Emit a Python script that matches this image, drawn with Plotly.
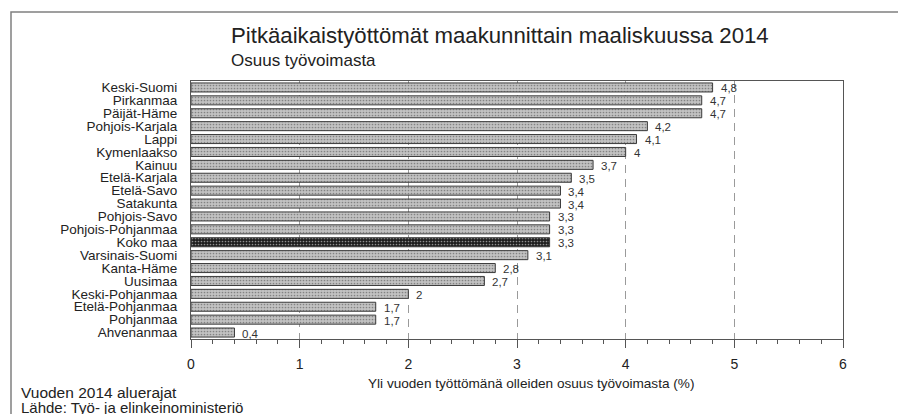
import plotly.graph_objects as go

regions = ["Keski-Suomi", "Pirkanmaa", "Päijät-Häme", "Pohjois-Karjala", "Lappi",
           "Kymenlaakso", "Kainuu", "Etelä-Karjala", "Etelä-Savo", "Satakunta",
           "Pohjois-Savo", "Pohjois-Pohjanmaa", "Koko maa", "Varsinais-Suomi",
           "Kanta-Häme", "Uusimaa", "Keski-Pohjanmaa", "Etelä-Pohjanmaa",
           "Pohjanmaa", "Ahvenanmaa"]
values = [4.8, 4.7, 4.7, 4.2, 4.1, 4.0, 3.7, 3.5, 3.4, 3.4,
          3.3, 3.3, 3.3, 3.1, 2.8, 2.7, 2.0, 1.7, 1.7, 0.4]
x_ticks = [0, 1, 2, 3, 4, 5, 6]

FONT = "Liberation Sans, Arial, sans-serif"

def fmt(v):
    s = f"{v:g}"
    return s.replace(".", ",")

bg = ["#1e1e1e" if r == "Koko maa" else "#c2c2c2" for r in regions]
fg = ["#3a3a3a" if r == "Koko maa" else "#8c8c8c" for r in regions]

fig = go.Figure()
fig.add_trace(go.Bar(
    x=values, y=regions, orientation="h", width=0.7,
    marker=dict(color=bg, line=dict(color="#3a3a3a", width=1),
                pattern=dict(shape=".", fgcolor=fg, bgcolor=bg, size=3, solidity=0.25)),
    hoverinfo="x+y", showlegend=False,
))

for r, v in zip(regions, values):
    fig.add_annotation(x=v, y=r, xref="x", yref="y", text=fmt(v), showarrow=False,
                       xanchor="left", yanchor="middle", xshift=6, yshift=-1,
                       font=dict(family=FONT, size=11.5, color="#333333"))

# page body has an 8px margin: figure coordinates are screen pixels minus 8
OFF = 8
L, R, T, B = 191 - OFF, 843 - OFF, 81 - OFF, 339 - OFF
W, H = 906 - OFF, 414 - OFF
def px(xp):
    return (xp - OFF - L) / (R - L)
def py(yp):
    return (B - (yp - OFF)) / (B - T)

fig.add_annotation(xref="paper", yref="paper", x=px(229), y=py(36), xanchor="left", yanchor="middle",
                   text="Pitkäaikaistyöttömät maakunnittain maaliskuussa 2014", showarrow=False,
                   font=dict(family=FONT, size=22.2, color="#222222"))
fig.add_annotation(xref="paper", yref="paper", x=px(229), y=py(60), xanchor="left", yanchor="middle",
                   text="Osuus työvoimasta", showarrow=False,
                   font=dict(family=FONT, size=17, color="#222222"))
fig.add_annotation(xref="paper", yref="paper", x=px(531), y=py(383), xanchor="center", yanchor="middle",
                   text="Yli vuoden työttömänä olleiden osuus työvoimasta (%)", showarrow=False,
                   font=dict(family=FONT, size=13.6, color="#222222"))
fig.add_annotation(xref="paper", yref="paper", x=px(19), y=py(392), xanchor="left", yanchor="middle",
                   text="Vuoden 2014 aluerajat", showarrow=False,
                   font=dict(family=FONT, size=15.5, color="#222222"))
fig.add_annotation(xref="paper", yref="paper", x=px(19), y=py(407), xanchor="left", yanchor="middle",
                   text="Lähde: Työ- ja elinkeinoministeriö", showarrow=False,
                   font=dict(family=FONT, size=15, color="#222222"))

fig.add_shape(type="rect", xref="paper", yref="paper",
              x0=px(11), y0=py(12), x1=px(960), y1=py(460),
              line=dict(color="#808080", width=1.5), fillcolor="rgba(0,0,0,0)", layer="below")

fig.update_layout(
    width=W, height=H,
    margin=dict(l=L, r=W - R, t=T, b=H - B, pad=0, autoexpand=False),
    paper_bgcolor="white", plot_bgcolor="white",
    font=dict(family=FONT, color="#222222"),
    bargap=0.3,
    xaxis=dict(range=[0, 6], tickvals=x_ticks, ticktext=[str(t) for t in x_ticks],
               ticks="outside", ticklen=8, tickcolor="#555555", tickwidth=1,
               minor=dict(dtick=0.2, ticks="outside", ticklen=4, tickcolor="#555555", showgrid=False),
               showgrid=True, gridcolor="#9a9a9a", griddash="8px,6px", gridwidth=1,
               showline=True, linecolor="#555555", linewidth=1, mirror=True, automargin=False,
               zeroline=False, tickfont=dict(size=14, color="#222222"), ticklabelstandoff=4),
    yaxis=dict(categoryorder="array", categoryarray=regions, autorange=False,
               tickmode="array", tickvals=regions, ticktext=regions,
               range=[19.5, -0.5], showline=True, linecolor="#555555", linewidth=1, mirror=True,
               automargin=False,
               ticks="", showgrid=False, tickfont=dict(size=13.5, color="#222222"),
               ticklabelstandoff=10),
)

fig.write_html("out.html")
